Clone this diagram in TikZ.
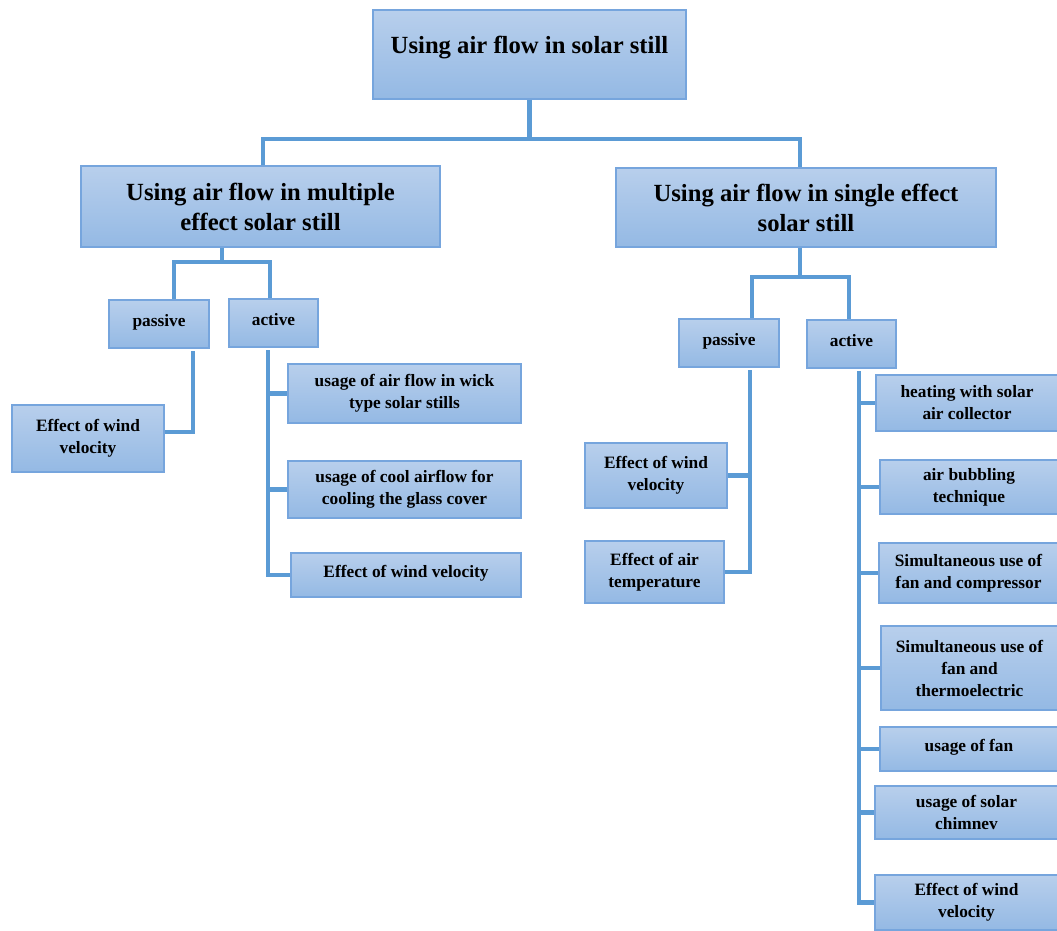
\documentclass[tikz,border=0pt]{standalone}
\usepackage{fontspec}
\setmainfont{Liberation Serif}
\usepackage{tikz}
\usetikzlibrary{positioning, calc}

\definecolor{boxtop}{RGB}{184,207,236}
\definecolor{boxbot}{RGB}{148,185,228}
\definecolor{boxline}{RGB}{118,165,221}
\definecolor{linkblue}{RGB}{91,155,213}

\begin{document}
\begin{tikzpicture}[
  x=0.75pt, y=-0.75pt,
  box/.style = {draw=boxline, line width=1pt, top color=boxtop, bottom color=boxbot,
                inner sep=0pt, align=center, font=\bfseries},
  sz/.style 2 args = {minimum width=#1*0.75pt, minimum height=#2*0.75pt},
  bigtext/.style = {font=\bfseries\fontsize{18.5}{22.5}\selectfont},
  smalltext/.style = {font=\bfseries\fontsize{13}{16.5}\selectfont},
  link/.style = {draw=linkblue, line width=3.6pt}
]

% Frame
\useasboundingbox (0,0) rectangle (1057,931);

% Top level
\node[box, bigtext, sz={313}{89}, text depth=14pt] (top) at (529.5,54.5) {Using air flow in solar still};

% Second level
\node[box, bigtext, sz={359}{81}] (mleft) at (260.5,206.5) {Using air flow in multiple\\effect solar still};
\node[box, bigtext, sz={380}{79}] (mright) at (806,207.5) {Using air flow in single effect\\solar still};

% Left branch: passive / active
\node[box, smalltext, sz={100}{48}, text depth=6pt] (lpas) at (159,324) {passive};
\node[box, smalltext, sz={89}{48}, text depth=6pt] (lact) at (273.5,323) {active};

\node[box, smalltext, sz={152}{67}] (lpw) at (88,438.5) {Effect of wind\\velocity};

\node[box, smalltext, sz={233}{59}] (la1) at (404.5,393.5) {usage of air flow in wick\\type solar stills};
\node[box, smalltext, sz={233}{57}] (la2) at (404.5,489.5) {usage of cool airflow for\\cooling the glass cover};
\node[box, smalltext, sz={230}{44}, text depth=5pt] (la3) at (406,575) {Effect of wind velocity};

% Right branch: passive / active
\node[box, smalltext, sz={100}{48}, text depth=6pt] (rpas) at (729,343) {passive};
\node[box, smalltext, sz={89}{48}, text depth=6pt] (ract) at (851.5,344) {active};

\node[box, smalltext, sz={142}{65}] (rp1) at (656,475.5) {Effect of wind\\velocity};
\node[box, smalltext, sz={139}{62}] (rp2) at (654.5,572) {Effect of air\\temperature};

\node[box, smalltext, sz={182}{56}] (ra1) at (967,403) {heating with solar\\air collector};
\node[box, smalltext, sz={178}{54}] (ra2) at (969,487) {air bubbling\\technique};
\node[box, smalltext, sz={179}{60}] (ra3) at (968.5,573) {Simultaneous use of\\fan and compressor};
\node[box, smalltext, sz={177}{84}] (ra4) at (969.5,668) {Simultaneous use of\\fan and\\thermoelectric};
\node[box, smalltext, sz={178}{44}, text depth=6pt] (ra5) at (969,749) {usage of fan};
\node[box, smalltext, sz={183}{53}] (ra6) at (966.5,812.5) {usage of solar\\chimnev};
\node[box, smalltext, sz={183}{55}] (ra7) at (966.5,902.5) {Effect of wind\\velocity};

% Junction points
\coordinate (tbl) at (263,139);
\coordinate (lbl) at (174,262);
\coordinate (lbm) at (222,262);
\coordinate (lbr) at (270,262);
\coordinate (rbl) at (752,277);
\coordinate (rbm) at (800,277);
\coordinate (rbr) at (849,277);
\coordinate (lpv) at (193,432);
\coordinate (lav) at (268,0);
\coordinate (rpv) at (750,0);
\coordinate (rav) at (859,0);

% Top connectors
\draw[link] (top.south) -- (top.south |- tbl);
\draw[link] (mleft.north -| tbl) -- (tbl) -| (mright.north -| rbm);

% Left connectors
\draw[link] (mleft.south -| lbm) -- (lbm);
\draw[link] (lpas.north -| lbl) -- (lbl) -- (lbr) -- (lact.north -| lbr);
\draw[link] ([yshift=-2pt]lpas.south -| lpv) -- (lpv) -- (lpw.east |- lpv);
\draw[link] ([yshift=-2pt]lact.south -| lav) |- (la3.west);
\foreach \n in {la1, la2}
  \draw[link] (\n.west -| lav) -- (\n.west);

% Right connectors
\draw[link] (mright.south -| rbm) -- (rbm);
\draw[link] (rpas.north -| rbl) -- (rbl) -- (rbr) -- (ract.north -| rbr);
\draw[link] ([yshift=-2pt]rpas.south -| rpv) |- (rp2.east);
\draw[link] (rp1.east -| rpv) -- (rp1.east);
\draw[link] ([yshift=-2pt]ract.south -| rav) |- (ra7.west);
\foreach \n in {ra1, ra2, ra3, ra4, ra5, ra6}
  \draw[link] (\n.west -| rav) -- (\n.west);

\end{tikzpicture}
\end{document}
